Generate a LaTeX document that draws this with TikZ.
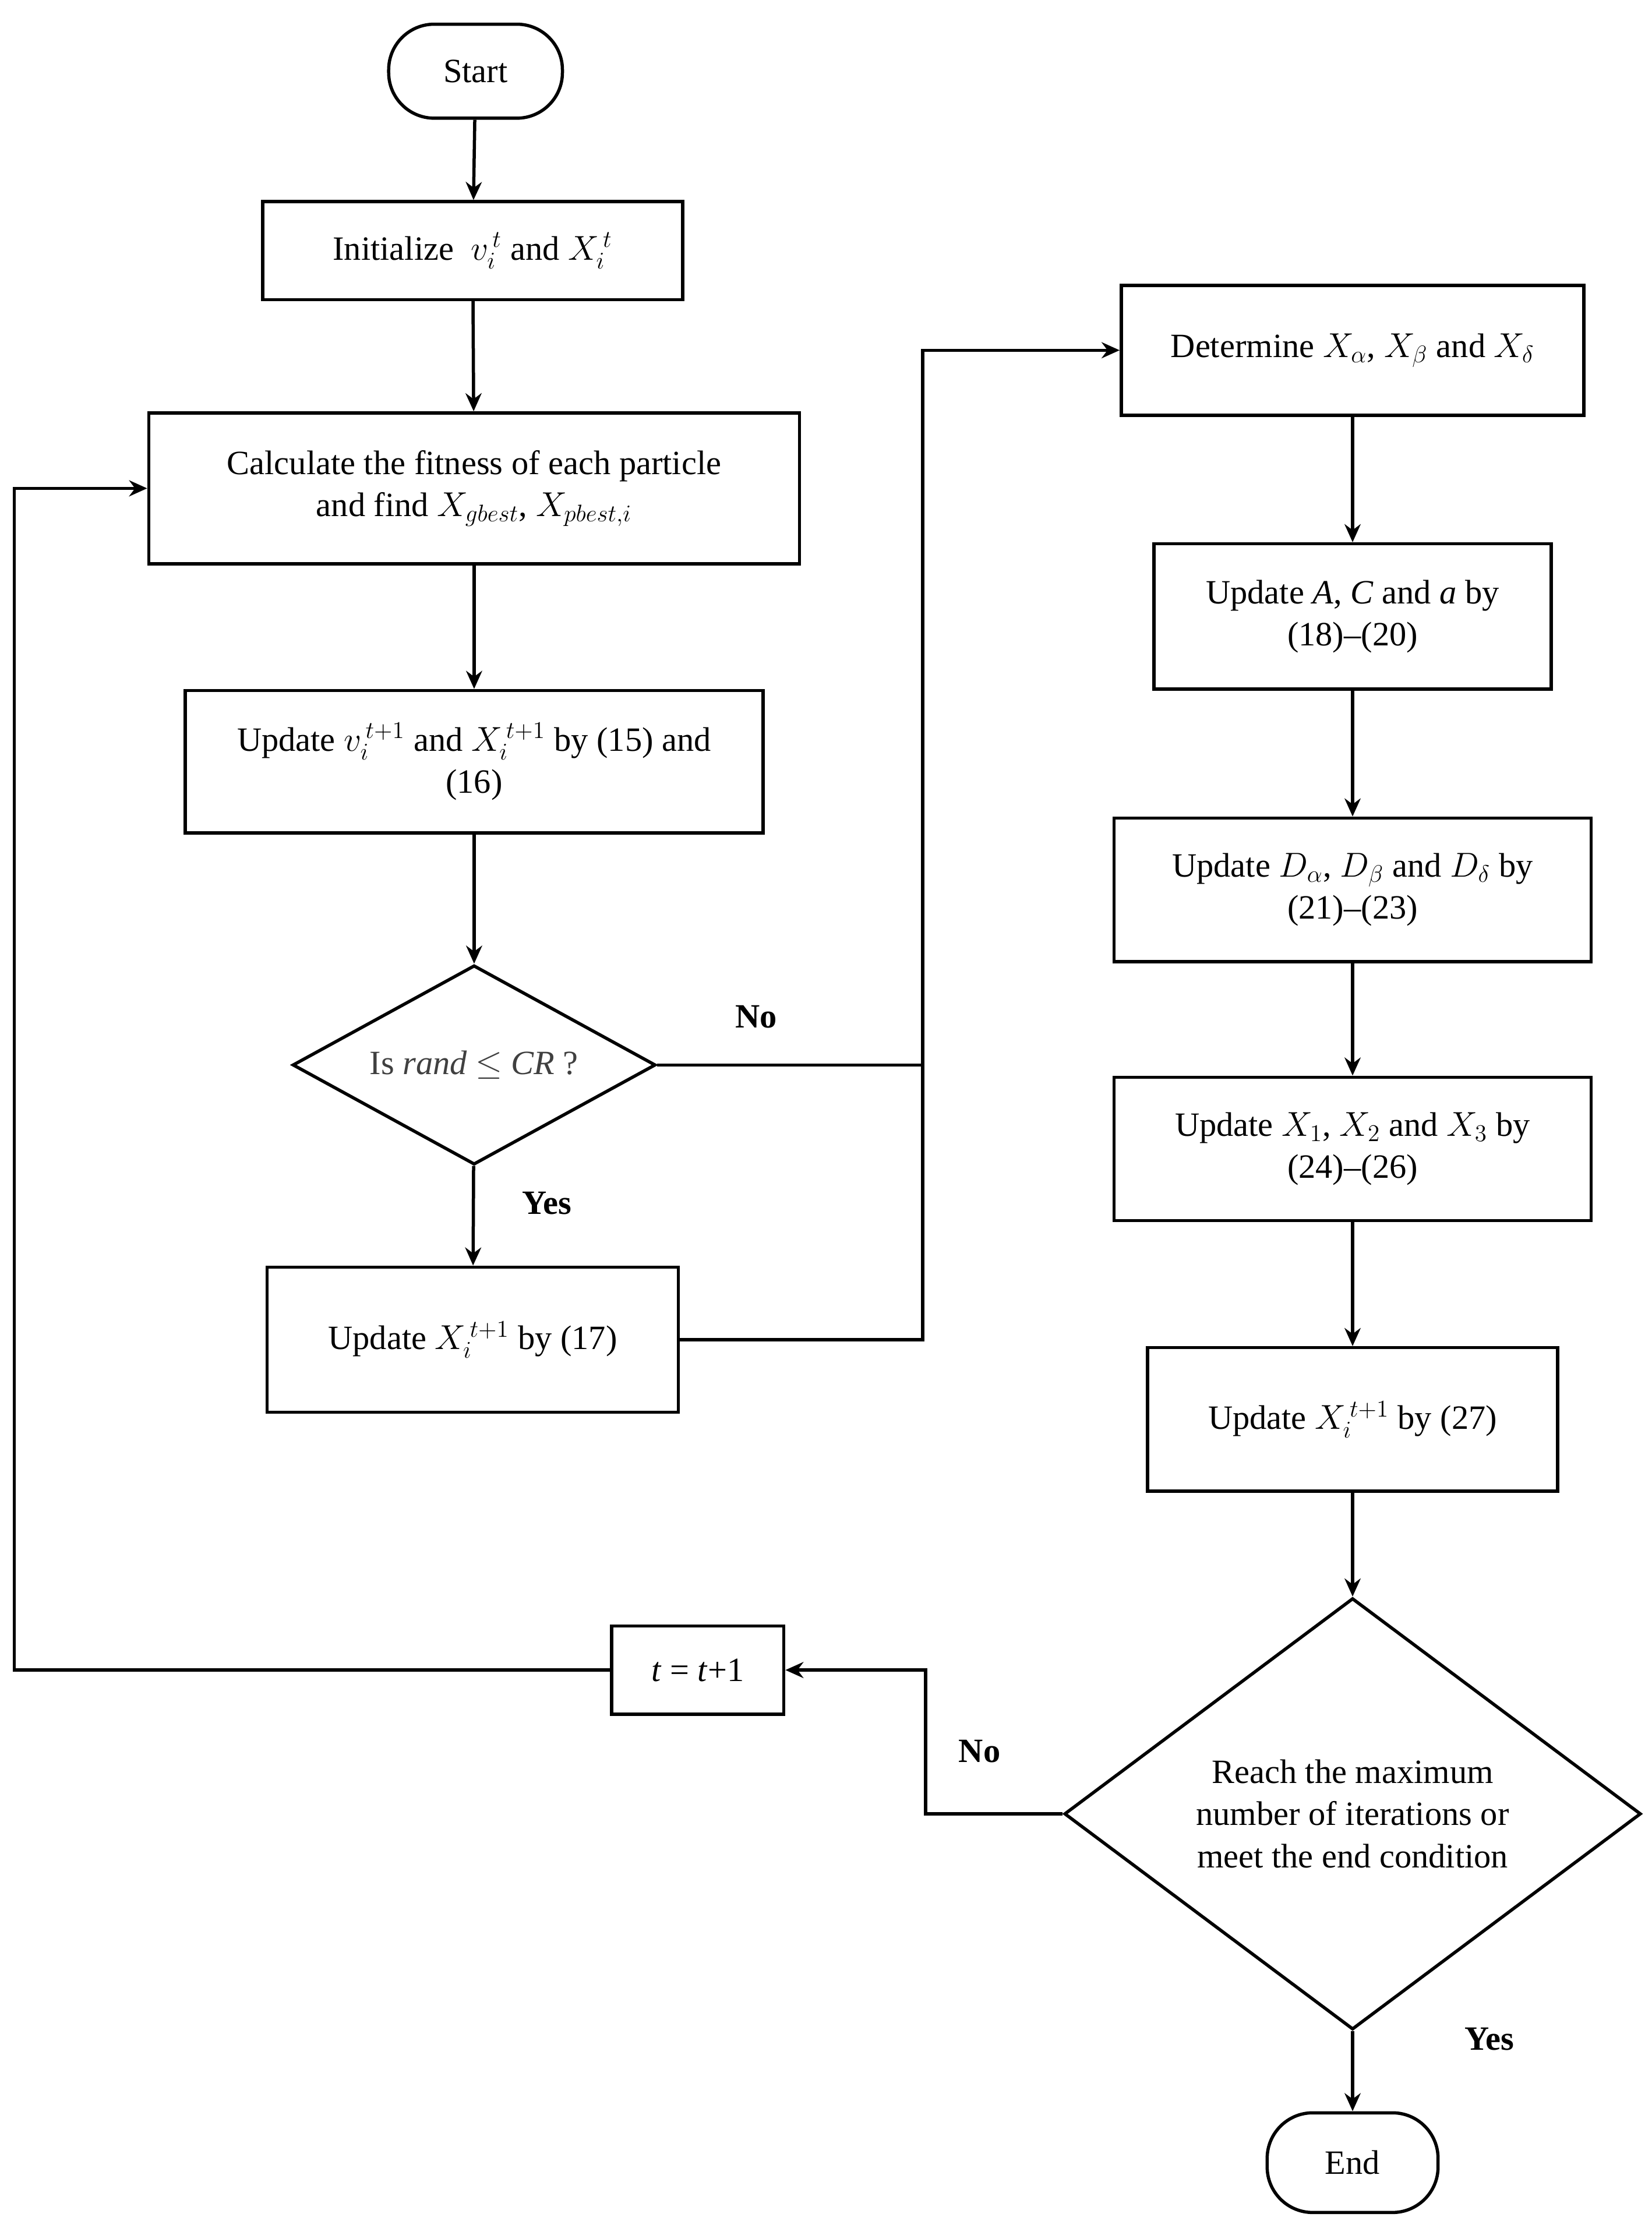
\documentclass[tikz,border=0pt]{standalone}
\usepackage{fontspec}
\setmainfont{Liberation Serif}
\usetikzlibrary{shapes.geometric,arrows.meta}
\begin{document}
\begin{tikzpicture}[x=0.025cm,y=-0.025cm,
  every node/.style={font=\fontsize{17}{21}\selectfont},
  box/.style={draw,line width=1.6pt,minimum width=#1*0.025cm,align=center,inner sep=0pt},
  term/.style={draw,line width=1.6pt,rounded corners=0.8cm,minimum width=3.05cm,minimum height=1.65cm},
  dia/.style={draw,line width=1.6pt,diamond,inner sep=0pt,align=center},
  lab/.style={font=\fontsize{17}{21}\selectfont\bfseries},
  ln/.style={line width=1.6pt},
  ar/.style={line width=1.6pt,-{Stealth[length=9pt,width=8pt]}}]
\useasboundingbox (0,0) rectangle (1160,1560);
\node[term] (start) at (334,50) {Start};
\node[box=295,minimum height=1.72cm] (init) at (332,176) {Initialize\ \ $v_i^{\,t}$ and $X_i^{\,t}$};
\node[box=457,minimum height=2.65cm] (calc) at (333,343) {Calculate the fitness of each particle\\and find $X_{gbest}$, $X_{pbest,i}$};
\node[box=406,minimum height=2.5cm] (upv) at (333,535) {Update $v_i^{\,t+1}$ and $X_i^{\,t+1}$ by (15) and\\(16)};
\node[dia,minimum width=255*0.025cm,minimum height=140*0.025cm] (d1) at (333,748) {};
\node[text=black!75] at (333,748) {Is \textit{rand} $\leq$ \textit{CR} ?};
\node[box=289,minimum height=2.55cm] (u17) at (332,941) {Update $X_i^{\,t+1}$ by (17)};
\node[box=325,minimum height=2.28cm] (det) at (950,246) {Determine $X_\alpha$, $X_\beta$ and $X_\delta$};
\node[box=279,minimum height=2.55cm] (uA) at (950,433) {Update \textit{A}, \textit{C} and \textit{a} by\\(18)--(20)};
\node[box=335,minimum height=2.52cm] (uD) at (950,625) {Update $D_\alpha$, $D_\beta$ and $D_\delta$ by\\(21)--(23)};
\node[box=335,minimum height=2.52cm] (uX) at (950,807) {Update $X_1$, $X_2$ and $X_3$ by\\(24)--(26)};
\node[box=288,minimum height=2.52cm] (u27) at (950,997) {Update $X_i^{\,t+1}$ by (27)};
\node[dia,minimum width=405*0.025cm,minimum height=303*0.025cm] (d2) at (950,1274) {};
\node[align=center] at (950,1274) {Reach the maximum\\number of iterations or\\meet the end condition};
\node[box=121,minimum height=1.55cm] (tt) at (490,1173) {\textit{t} = \textit{t}+1};
\node[term,minimum width=3cm,minimum height=1.75cm] (end) at (950,1519) {End};
\coordinate (j1) at (648,748);
\coordinate (j2) at (648,246);
\coordinate (j3) at (648,941);
\coordinate (j4) at (650,1274);
\coordinate (j5) at (650,1173);
\coordinate (j6) at (10,1173);
\coordinate (j7) at (10,343);
\draw[ar] (start) -- (init);
\draw[ar] (init) -- (calc);
\draw[ar] (calc) -- (upv);
\draw[ar] (upv) -- (d1);
\draw[ar] (d1) -- (u17);
\draw[ar] (d1.east) -- (j1) -- (j2) -- (det.west);
\draw[ln] (u17.east) -- (j3) -- (j1);
\draw[ar] (det) -- (uA);
\draw[ar] (uA) -- (uD);
\draw[ar] (uD) -- (uX);
\draw[ar] (uX) -- (u27);
\draw[ar] (u27) -- (d2);
\draw[ar] (d2) -- (end);
\draw[ar] (d2.west) -- (j4) -- (j5) -- (tt.east);
\draw[ar] (tt.west) -- (j6) -- (j7) -- (calc.west);
\node[lab] at (531,714) {No};
\node[lab] at (384,845) {Yes};
\node[lab] at (688,1230) {No};
\node[lab] at (1046,1432) {Yes};
\end{tikzpicture}
\end{document}
